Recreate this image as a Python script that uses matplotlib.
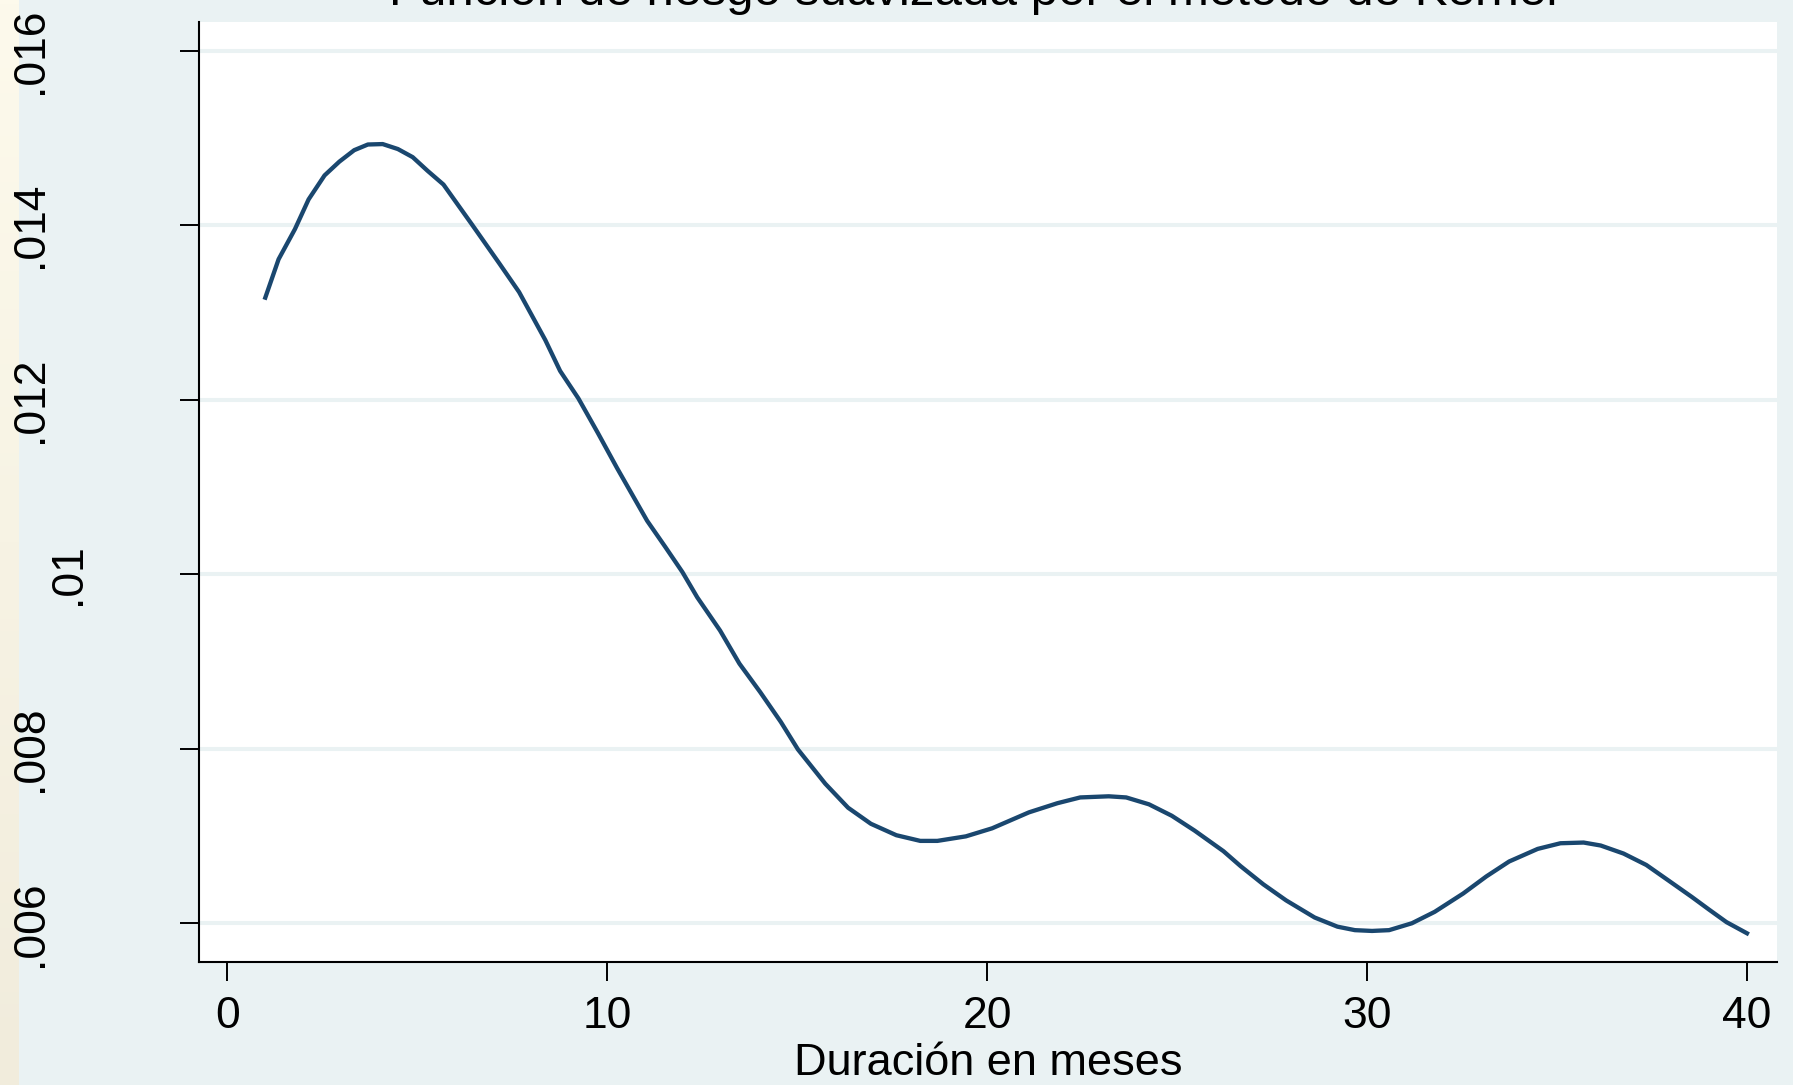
import numpy as np
import matplotlib
matplotlib.use('Agg')
import matplotlib.pyplot as plt
import matplotlib.transforms as mtransforms

plt.rcParams['font.family'] = ['Liberation Sans', 'DejaVu Sans']

# smoothed hazard estimate
meses = [1.0, 1.35, 1.78, 2.14, 2.56, 2.95, 3.34, 3.7, 4.09, 4.49, 4.88, 5.27,
         5.69, 6.44, 7.16, 7.68, 8.37, 8.76, 9.24, 9.75, 10.26, 11.05, 11.53,
         11.98, 12.37, 12.97, 13.48, 14.03, 14.57, 15.02, 15.74, 16.34, 16.94,
         17.61, 18.24, 18.69, 19.44, 20.13, 21.1, 21.85, 22.45, 23.2, 23.66,
         24.26, 24.86, 25.46, 26.22, 26.67, 27.27, 27.87, 28.62, 29.22, 29.68,
         30.13, 30.58, 31.18, 31.78, 32.53, 33.14, 33.74, 34.49, 35.09, 35.7,
         36.15, 36.75, 37.35, 37.95, 38.55, 39.0, 39.46, 40.0]
riesgo = [0.01317, 0.01361, 0.013955, 0.014296, 0.014571, 0.014729, 0.01486,
          0.014925, 0.01493, 0.014873, 0.01478, 0.014624, 0.014466, 0.014008,
          0.013562, 0.013234, 0.012684, 0.01233, 0.012016, 0.011622, 0.011216,
          0.010613, 0.010312, 0.010024, 0.009735, 0.009355, 0.008975, 0.008647,
          0.008307, 0.007992, 0.007599, 0.007324, 0.00714, 0.007009, 0.006944,
          0.006944, 0.006996, 0.007088, 0.007271, 0.007376, 0.007442, 0.007455,
          0.007442, 0.007363, 0.007232, 0.007062, 0.006826, 0.006655, 0.006446,
          0.006262, 0.006066, 0.005961, 0.005921, 0.005912, 0.005921, 0.006,
          0.006131, 0.006341, 0.006537, 0.006708, 0.006852, 0.006917, 0.006925,
          0.006891, 0.006799, 0.006668, 0.006485, 0.006301, 0.006157, 0.006013,
          0.005885]

xticks = [0, 10, 20, 30, 40]
yticks = [0.006, 0.008, 0.01, 0.012, 0.014, 0.016]
ylabels = ['.006', '.008', '.01', '.012', '.014', '.016']

W, H = 1793, 1085
bg = '#eaf2f3'
navy = '#1a476f'

fig = plt.figure(figsize=(W / 100, H / 100), dpi=100, facecolor=bg)

# cream strip at the left edge
strip = fig.add_axes([0, 0, 19 / W, 1])
grad = np.linspace(0, 1, 256).reshape(-1, 1, 1)
top_c = np.array([253, 250, 236]) / 255
bot_c = np.array([241, 236, 220]) / 255
strip.imshow(top_c * (1 - grad) + bot_c * grad, aspect='auto')
strip.axis('off')

# plot area
ax = fig.add_axes([199 / W, 1 - 962 / H, (1777 - 199) / W, (962 - 22) / H])
ax.set_facecolor('white')
ax.plot(meses, riesgo, color=navy, lw=3.1, solid_joinstyle='round')

ax.set_xlim(-0.745, 40.79)
ax.set_ylim(0.005556, 0.016329)
ax.set_xticks(xticks)
ax.set_xticklabels([str(t) for t in xticks], fontsize=32)
ax.set_yticks(yticks)
ax.set_yticklabels([])

for yv in yticks:
    ax.axhline(yv, color=bg, lw=2.9, zorder=0.5)

for s in ['top', 'right']:
    ax.spines[s].set_visible(False)
for s in ['left', 'bottom']:
    ax.spines[s].set_linewidth(1.5)
ax.tick_params(axis='both', direction='out', length=13.5, width=1.4, color='black')
ax.tick_params(axis='x', pad=11)

# y tick labels, rotated like Stata draws them
trans = mtransforms.blended_transform_factory(fig.transFigure, ax.transData)
for yv, lab in zip(yticks, ylabels):
    xc = 69 if lab == '.01' else 31
    fig.text(xc / W, yv, lab, transform=trans, rotation=90, fontsize=32,
             ha='center', va='center')

fig.text(973 / W, 1 - 5 / H, 'Función de riesgo suavizada por el método de Kernel',
         fontsize=35.5, ha='center', va='baseline')
fig.text(988 / W, 1 - 1075 / H, 'Duración en meses', fontsize=32.5,
         ha='center', va='baseline')

fig.savefig('out.png', dpi=100, facecolor=bg)
